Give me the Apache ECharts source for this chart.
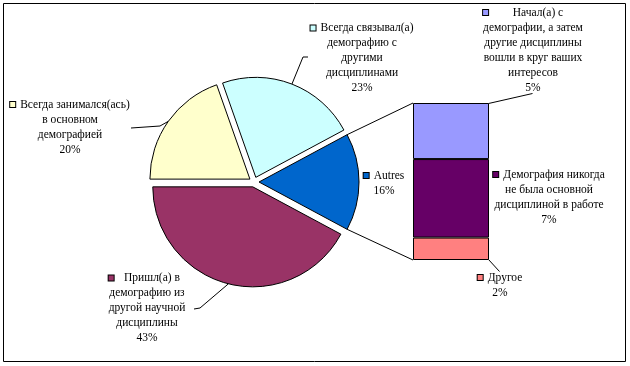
<!DOCTYPE html>
<html><head><meta charset="utf-8">
<script src="https://cdn.jsdelivr.net/npm/echarts@6/dist/echarts.min.js"></script>
<style>html,body{margin:0;padding:0;background:#fff}#c{width:630px;height:366px}</style>
</head><body><div id="c"></div>
<script>
// ---- data ----
const pieNames = ['Autres', 'Пришл(а) в\nдемографию из\nдругой научной\nдисциплины', 'Всегда занимался(ась)\nв основном\nдемографией', 'Всегда связывал(а)\nдемографию с\nдругими\nдисциплинами'];
const pieValues = [16, 43, 20, 23];
const pieColors = ['#0066CC', '#993366', '#FFFFCC', '#CCFFFF'];
const barNames = ['Другое', 'Демография никогда\nне была основной\nдисциплиной в работе', 'Начал(а) с\nдемографии, а затем\nдругие дисциплины\nвошли в круг ваших\nинтересов'];
const barValues = [2, 7, 5];
const barColors = ['#FF8080', '#660066', '#9999FF'];

// ---- layout ----
const CX = 254, CY = 182, R = 100, OFF = 5;
const BAR = {left: 413, top: 103, width: 76, height: 157};
const FONT = '"Liberation Serif", "Times New Roman", serif';
const FS = 11.5;
const pieLabelPos = [[384, 183], [147, 308], [70, 127], [362, 58]];
const pieLabelBend = [null, [[200, 308], [194, 309]], [[160, 126], [131, 128]], [[303, 57], [308, 57]]];
const barLabelPos = [[500, 285], [549, 197], [533, 50]];
const barLabelLine = [[[490, 250], [497, 262], [500, 270]], null, [[490, 128], [535, 97]]];

const total = pieValues.reduce((a, b) => a + b, 0);
const startAngle = pieValues[0] / total * 180;
const midAngles = [];
{ let a = startAngle; pieValues.forEach(v => { const sweep = v / total * 360; midAngles.push(a - sweep / 2); a -= sweep; }); }
function edgePoint(i) {
  const m = midAngles[i] * Math.PI / 180;
  const cx = CX + OFF * Math.cos(m), cy = CY - OFF * Math.sin(m);
  return [cx + R * Math.cos(m), cy - R * Math.sin(m)];
}

function richText(name, pct, key) {
  const lines = name.split('\n');
  let s = '{' + key + '|}{sp|}{t|' + lines[0] + '}';
  for (let i = 1; i < lines.length; i++) s += '\n{t|' + lines[i] + '}';
  s += '\n{t|' + pct + '%}';
  return s;
}
function richStyles(color) {
  return {
    k: {width: 5, height: 5, backgroundColor: color, borderColor: '#000', borderWidth: 1, align: 'left', lineHeight: 15},
    sp: {width: 5, align: 'left', lineHeight: 15},
    t: {fontSize: FS, fontFamily: FONT, color: '#000', fill: '#000', lineHeight: 15, align: 'center'}
  };
}

const chart = echarts.init(document.getElementById('c'), null, {renderer: 'canvas'});

const pieData = pieValues.map((v, i) => ({
  value: v, name: pieNames[i], selected: true,
  itemStyle: {color: pieColors[i]}
}));

const barSeries = barValues.map((v, i) => ({
  type: 'bar', stack: 'b', barWidth: '100%',
  name: barNames[i],
  data: [v],
  itemStyle: {color: barColors[i], borderColor: '#000', borderWidth: 1},
  label: {show: true, position: 'inside', formatter: richText(barNames[i], v, 'k'), rich: richStyles(barColors[i])},
  labelLine: {show: barLabelLine[i] != null, lineStyle: {color: '#000', width: 1}},
  labelLayout: function () {
    const o = {x: barLabelPos[i][0], y: barLabelPos[i][1], align: 'center', verticalAlign: 'middle'};
    if (barLabelLine[i]) o.labelLinePoints = barLabelLine[i];
    return o;
  },
  emphasis: {disabled: true},
  silent: true
}));

const a = startAngle * Math.PI / 180;
const upper = [CX + OFF + R * Math.cos(a), CY - R * Math.sin(a)];
const lower = [CX + OFF + R * Math.cos(a), CY + R * Math.sin(a)];

const graphics = [
  {type: 'rect', shape: {x: 3.5, y: 3.5, width: 622, height: 358}, style: {fill: 'none', stroke: '#000', lineWidth: 1}, z: 0, silent: true},
  {type: 'line', shape: {x1: upper[0], y1: upper[1], x2: BAR.left, y2: BAR.top}, style: {stroke: '#000', lineWidth: 1}, silent: true},
  {type: 'line', shape: {x1: lower[0], y1: lower[1], x2: BAR.left, y2: BAR.top + BAR.height}, style: {stroke: '#000', lineWidth: 1}, silent: true}
];
pieValues.forEach((v, i) => {
  if (pieLabelBend[i]) {
    graphics.push({type: 'polyline', shape: {points: [edgePoint(i)].concat(pieLabelBend[i])},
      style: {stroke: '#000', lineWidth: 1, fill: 'none'}, z: 20, silent: true});
  }
  graphics.push({type: 'text', x: pieLabelPos[i][0], y: pieLabelPos[i][1], z: 30, silent: true,
    style: {text: richText(pieNames[i], v, 'k'), rich: richStyles(pieColors[i]),
      align: 'center', verticalAlign: 'middle', textAlign: 'center', textVerticalAlign: 'middle',
      fill: '#000', fontSize: FS, fontFamily: FONT}});
});

chart.setOption({
  animation: false,
  backgroundColor: '#fff',
  grid: {left: BAR.left, top: BAR.top, width: BAR.width, height: BAR.height, containLabel: false},
  xAxis: {type: 'category', data: ['Autres'], show: false},
  yAxis: {type: 'value', min: 0, max: barValues.reduce((x, y) => x + y, 0), show: false},
  graphic: graphics,
  series: [{
    type: 'pie', center: [CX, CY], radius: R, startAngle: startAngle, clockwise: true,
    selectedMode: 'multiple', selectedOffset: OFF, avoidLabelOverlap: false,
    itemStyle: {borderColor: '#000', borderWidth: 1},
    select: {itemStyle: {borderColor: '#000', borderWidth: 1}},
    emphasis: {disabled: true},
    label: {show: false},
    labelLine: {show: false},
    silent: true,
    data: pieData
  }].concat(barSeries)
});
</script></body></html>
